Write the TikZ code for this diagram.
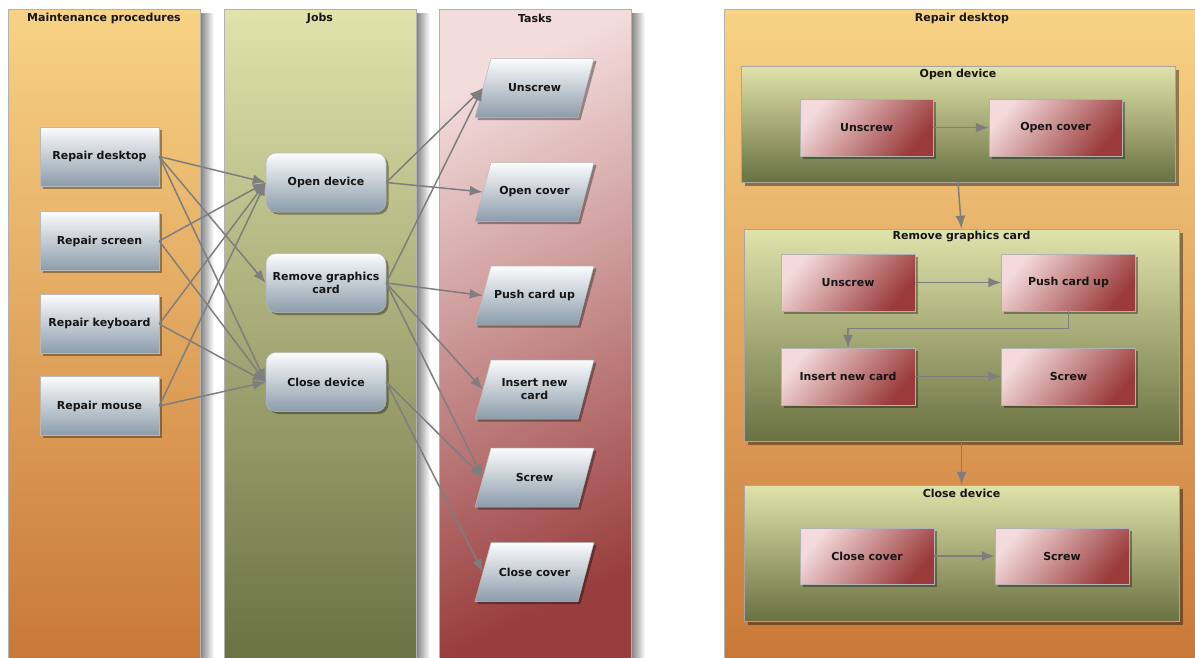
\documentclass[tikz,border=0pt]{standalone}
\usepackage{fontspec}
\setmainfont{DejaVu Sans}
\usetikzlibrary{arrows.meta,shapes.geometric,shadows}
\definecolor{orT}{HTML}{F8D385}
\definecolor{orB}{HTML}{C97838}
\definecolor{grT}{HTML}{E0E3AB}
\definecolor{grB}{HTML}{6A7142}
\definecolor{rdT}{HTML}{F3DCDC}
\definecolor{rdB}{HTML}{993E3E}
\definecolor{slT}{HTML}{FBFCFD}
\definecolor{slB}{HTML}{8C9CAA}
\definecolor{bxT}{HTML}{F4DADC}
\definecolor{bxB}{HTML}{9A3A3A}
\definecolor{edgeC}{HTML}{7E7E7E}
\definecolor{txtC}{HTML}{151515}
\tikzset{
  ft/.style={font=\bfseries\fontsize{11}{13}\selectfont, text=txtC},
  lanebox/.style={draw=gray!60, line width=0.6pt},
  lanetitle/.style={ft, anchor=center},
  shad/.style={drop shadow={shadow xshift=2.5pt, shadow yshift=-2.5pt, opacity=0.35, fill=black}},
  bigshad/.style={drop shadow={shadow xshift=4pt, shadow yshift=-4pt, opacity=0.4, fill=black}},
  procbox/.style={ft, rectangle, minimum width=119pt, minimum height=59pt, top color=slT, bottom color=slB, draw=gray!55, line width=0.5pt, shad, align=center, inner sep=2pt},
  jobbox/.style={procbox, rounded corners=10pt, minimum width=120pt},
  paraface/.style={top color=slT, bottom color=slB, draw=gray!55, line width=0.5pt, shad},
  taskcore/.style={ft, rectangle, minimum width=103pt, minimum height=59pt, align=center, inner sep=1pt},
  pics/para/.style={code={\path[paraface] (-59.5,29.5) -- (-43.5,-29.5) -- (59.5,-29.5) -- (43.5,29.5) -- cycle;}},
  grpbox/.style={rectangle, top color=grT, bottom color=grB, draw=gray!70, line width=0.5pt, bigshad},
  redbox/.style={ft, rectangle, minimum width=134pt, minimum height=57pt, top color=bxT, bottom color=bxB, shading angle=50, draw=gray!60, line width=0.5pt, shad, align=center},
  conn/.style={draw=edgeC, line width=1.5pt, -{Latex[length=13pt,width=10pt]}}
}
\begin{document}
\begin{tikzpicture}[x=1pt,y=-1pt]
\useasboundingbox (0,0) rectangle (1195,657);
% lane shadows
\shade[left color=black!50, right color=white] (200,13) rectangle (214,660);
\shade[left color=black!50, right color=white] (416,13) rectangle (430,660);
\shade[left color=black!50, right color=white] (631,13) rectangle (645,660);
% lanes
\path[lanebox, top color=orT, bottom color=orB] (8,9) rectangle (200,660);
\path[lanebox, top color=grT, bottom color=grB] (224,9) rectangle (416,660);
\path[lanebox, top color=rdT, bottom color=rdB, shading angle=25] (439,9) rectangle (631,660);
\path[lanebox, top color=orT, bottom color=orB] (724,9) rectangle (1198,660);
\node[lanetitle] (lt1) at (104,18) {Maintenance procedures};
\node[lanetitle] (lt2) at (320,18) {Jobs};
\node[lanetitle] (lt3) at (535,18) {Tasks};
\node[lanetitle] (lt4) at (962,18) {Repair desktop};
% procedures
\node[procbox] (rd) at (99.5,156.5) {Repair desktop};
\node[procbox] (rs) at (99.5,241) {Repair screen};
\node[procbox] (rk) at (99.5,324) {Repair keyboard};
\node[procbox] (rm) at (99.5,406) {Repair mouse};
% jobs
\node[jobbox] (od) at (326,182.5) {Open device};
\node[jobbox] (rg) at (326,283) {Remove graphics\\card};
\node[jobbox] (cd) at (326,382) {Close device};
% tasks
\pic at (534.5,88) {para};
\node[taskcore] (tun) at (534.5,88) {Unscrew};
\pic at (534.5,192) {para};
\node[taskcore] (toc) at (534.5,192) {Open cover};
\pic at (534.5,295.5) {para};
\node[taskcore] (tpc) at (534.5,295.5) {Push card up};
\pic at (534.5,389.5) {para};
\node[taskcore] (tin) at (534.5,389.5) {Insert new\\card};
\pic at (534.5,477.5) {para};
\node[taskcore] (tsc) at (534.5,477.5) {Screw};
\pic at (534.5,572) {para};
\node[taskcore] (tcc) at (534.5,572) {Close cover};
% procedure -> job edges
\draw[conn] (rd.east) -- (od.west);
\draw[conn] (rd.east) -- (rg.west);
\draw[conn] (rd.east) -- (cd.west);
\draw[conn] (rs.east) -- (od.west);
\draw[conn] (rs.east) -- (cd.west);
\draw[conn] (rk.east) -- (od.west);
\draw[conn] (rk.east) -- (cd.west);
\draw[conn] (rm.east) -- (od.west);
\draw[conn] (rm.east) -- (cd.west);
% job -> task edges
\draw[conn] (od.east) -- (tun.west);
\draw[conn] (od.east) -- (toc.west);
\draw[conn] (rg.east) -- (tun.west);
\draw[conn] (rg.east) -- (tpc.west);
\draw[conn] (rg.east) -- (tin.west);
\draw[conn] (rg.east) -- (tsc.west);
\draw[conn] (cd.east) -- (tsc.west);
\draw[conn] (cd.east) -- (tcc.west);
% right side groups
\node[grpbox, minimum width=434pt, minimum height=116pt] (g1) at (958,124) {};
\node[grpbox, minimum width=435pt, minimum height=212pt] (g2) at (961.5,335) {};
\node[grpbox, minimum width=435pt, minimum height=136pt] (g3) at (961.5,553) {};
\node[lanetitle] (g1t) at (958,74) {Open device};
\node[lanetitle] (g2t) at (961.5,237) {Remove graphics card};
\node[lanetitle] (g3t) at (961.5,493) {Close device};
\draw[conn] (g1.south) -- (g2.north);
\draw[conn] (g2.south) -- (g3.north);
% inner boxes
\node[redbox, minimum width=133pt] (u1) at (866.5,127.5) {Unscrew};
\node[redbox, minimum width=133pt] (oc1) at (1055.5,127.5) {Open cover};
\node[redbox] (u2) at (848,282.5) {Unscrew};
\node[redbox] (p2) at (1068.5,282.5) {Push card up};
\node[redbox] (i2) at (848,376.5) {Insert new card};
\node[redbox] (s2) at (1068.5,376.5) {Screw};
\node[redbox, minimum height=56pt] (c3) at (867,556) {Close cover};
\node[redbox, minimum height=56pt] (s3) at (1062,556) {Screw};
\draw[conn] (u1.east) -- (oc1.west);
\draw[conn] (u2.east) -- (p2.west);
\coordinate (bend) at ([yshift=-17pt]p2.south);
\draw[conn] (p2.south) -- (bend) -| (i2.north);
\draw[conn] (i2.east) -- (s2.west);
\draw[conn] (c3.east) -- (s3.west);
\end{tikzpicture}
\end{document}
